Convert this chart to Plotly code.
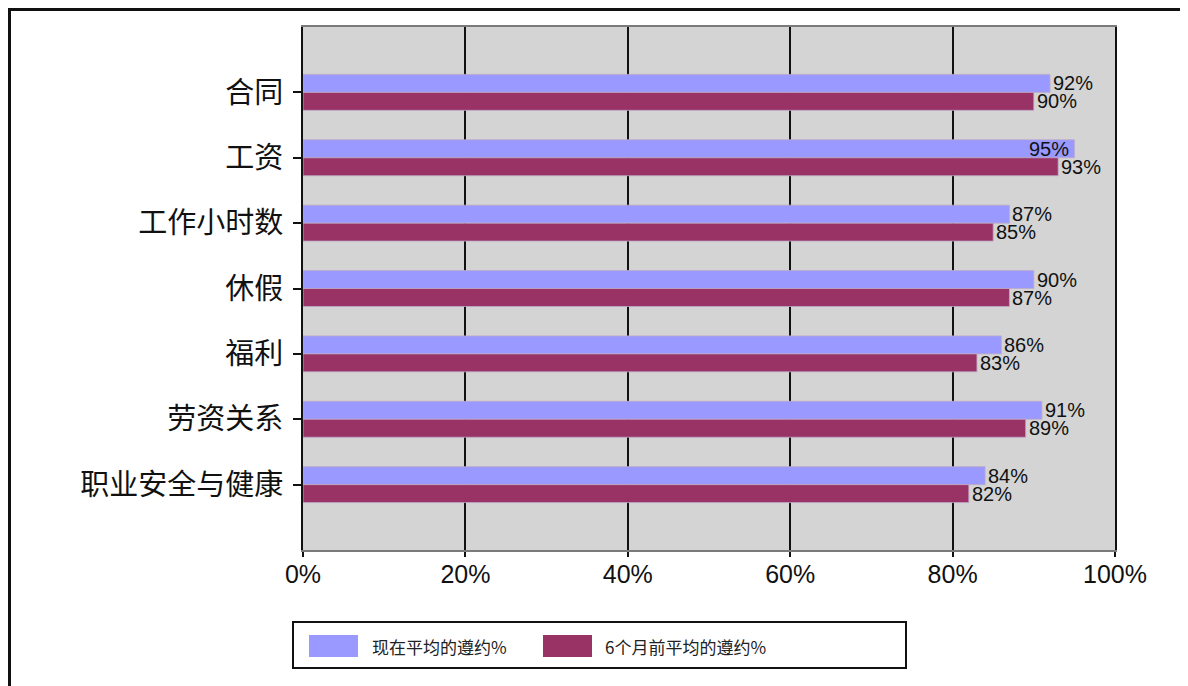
import plotly.graph_objects as go

categories = ["合同", "工资", "工作小时数", "休假", "福利", "劳资关系", "职业安全与健康"]
now_vals = [92, 95, 87, 90, 86, 91, 84]
before_vals = [90, 93, 85, 87, 83, 89, 82]
series_names = ["现在平均的遵约%", "6个月前平均的遵约%"]
tick_vals = [0, 20, 40, 60, 80, 100]
tick_text = [f"{v}%" for v in tick_vals]

OFF = 8  # page body margin
W, H = 1188 - OFF, 686 - OFF
L, T = 303 - OFF, 27 - OFF
pw, ph = 812, 523
R, B = W - L - pw, H - T - ph

def px_x(p):
    return (p - OFF - L) / pw

def px_y(p):
    return (T + ph - (p - OFF)) / ph

colors = ["#9999FF", "#993366"]

fig = go.Figure()
for name, vals, col in zip(series_names, [now_vals, before_vals], colors):
    fig.add_trace(go.Bar(
        y=categories, x=vals, orientation="h", name=name,
        marker=dict(color=col, line=dict(color="rgba(190,170,200,0.8)", width=1)),
        showlegend=False, hoverinfo="x+y",
    ))

# value labels
for ti, vals in enumerate([now_vals, before_vals]):
    for i, v in enumerate(vals):
        inside = v >= 95
        fig.add_annotation(
            x=v, y=categories[i], xref="x", yref="y",
            text=f"{v}%", showarrow=False,
            xanchor="right" if inside else "left",
            xshift=-3 if inside else 1,
            yshift=9 if ti == 0 else -9,
            font=dict(family="Liberation Sans, Arial", size=20, color="#111111"),
        )

# outer frame (top and left edges only visible)
fig.add_shape(type="path", xref="paper", yref="paper",
              path=f"M {px_x(9.5)},{px_y(700)} L {px_x(9.5)},{px_y(9.5)} L {px_x(1250)},{px_y(9.5)}",
              line=dict(color="#111111", width=3), layer="above")

# custom legend
fig.add_shape(type="rect", xref="paper", yref="paper",
              x0=px_x(293), x1=px_x(906), y0=px_y(668), y1=px_y(622),
              line=dict(color="#111111", width=2), fillcolor="white")
sw_x = [309, 543]
tx_x = [370, 603]
for name, col, sx, tx in zip(series_names, colors, sw_x, tx_x):
    fig.add_shape(type="rect", xref="paper", yref="paper",
                  x0=px_x(sx), x1=px_x(sx + 49), y0=px_y(657), y1=px_y(635),
                  line=dict(width=0), fillcolor=col)
    fig.add_annotation(x=px_x(tx), y=px_y(646), xref="paper", yref="paper",
                       text=name, showarrow=False, xanchor="left", yanchor="middle",
                       font=dict(family="Noto Sans CJK SC", size=17, color="#222222"))

fig.update_layout(
    width=W, height=H,
    margin=dict(l=L, r=R, t=T, b=B, pad=0),
    paper_bgcolor="white", plot_bgcolor="#D4D4D4",
    barmode="group", bargap=0.45, bargroupgap=0,
    font=dict(family="Liberation Sans, Arial", color="#111111"),
)
fig.update_xaxes(
    range=[0, 100], tickmode="array", tickvals=tick_vals, ticktext=tick_text,
    showgrid=True, gridcolor="#111111", gridwidth=2,
    zeroline=False, showline=True, linecolor="#7a7a7a", linewidth=2, mirror=True,
    ticks="outside", ticklen=5, tickwidth=2, tickcolor="#111111",
    ticklabelstandoff=-4,
    tickfont=dict(size=25, family="Liberation Sans, Arial", color="#111111"),
)
fig.update_yaxes(
    range=[7, -1], categoryorder="array", categoryarray=categories,
    showgrid=False, zeroline=False,
    showline=True, linecolor="#111111", linewidth=2, mirror=True,
    ticks="outside", ticklen=8, tickwidth=1.5, tickcolor="#111111",
    ticklabelstandoff=4,
    tickfont=dict(size=29, family="Noto Sans CJK SC", color="#111111"),
)

fig.write_html("out.html")
